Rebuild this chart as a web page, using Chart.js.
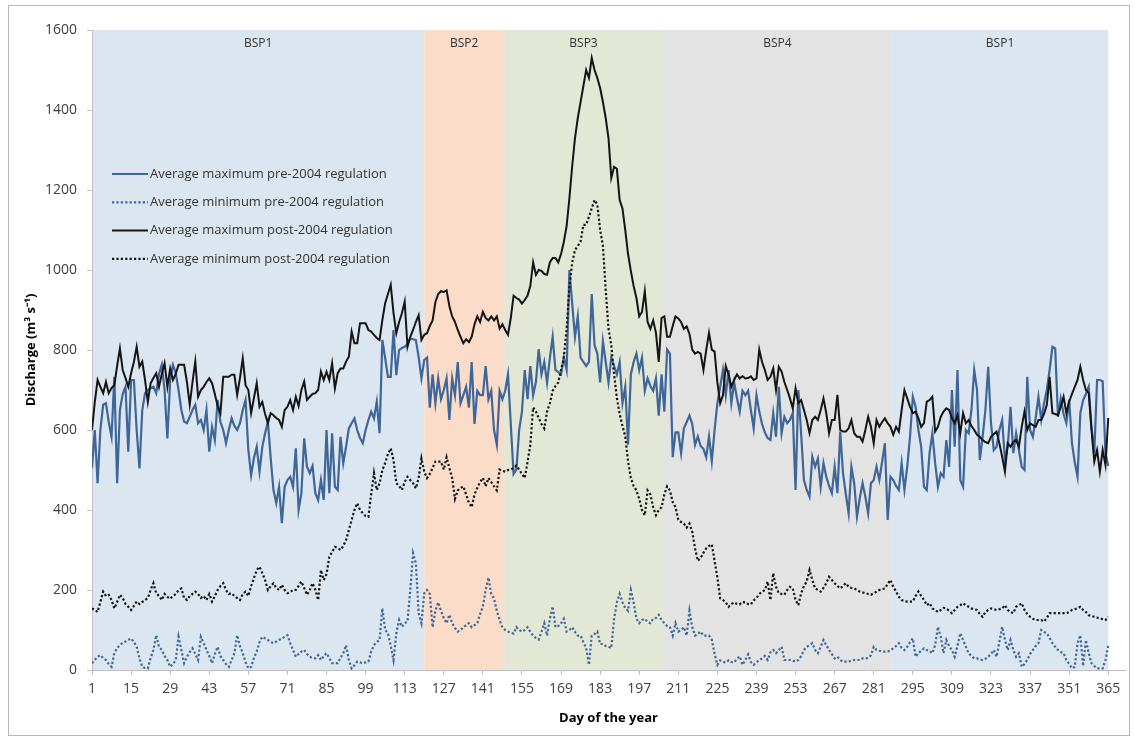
<!DOCTYPE html>
<html>
<head>
<meta charset="utf-8">
<script src="https://cdn.jsdelivr.net/npm/chart.js@4.4.1/dist/chart.umd.min.js"></script>
<style>
  html, body { margin: 0; padding: 0; background: #fff; }
</style>
</head>
<body>
<canvas id="chart" width="1135" height="740"></canvas>
<script>
// day of year (categories)
const days = Array.from({ length: 365 }, (_, i) => i + 1);
const xTicks = [1, 15, 29, 43, 57, 71, 85, 99, 113, 127, 141, 155, 169, 183, 197, 211, 225, 239, 253, 267, 281, 295, 309, 323, 337, 351, 365];

// regulation periods (start / end day)
const bandNames = ['BSP1', 'BSP2', 'BSP3', 'BSP4', 'BSP1'];
const bandStart = [1, 120, 148.6, 205.5, 287.5];
const bandEnd = [120, 148.6, 205.5, 287.5, 365];
const bandColors = ['#dce6f1', '#fbdcc8', '#e3e8d6', '#e3e3e3', '#dce6f1'];

// Average maximum pre-2004 regulation
const preMax = [
  505, 600, 467, 600, 663, 667, 620, 583, 733, 467,
  650, 690, 708, 546, 725, 725, 600, 504, 650, 692,
  700, 705, 708, 692, 740, 763, 700, 579, 725, 763,
  742, 700, 650, 621, 617, 633, 650, 663, 617, 625,
  600, 650, 546, 608, 575, 675, 620, 600, 567, 600,
  629, 610, 600, 617, 650, 675, 550, 487, 530, 558,
  496, 558, 592, 621, 530, 450, 417, 458, 367, 458,
  475, 483, 458, 554, 400, 442, 579, 508, 492, 510,
  442, 425, 475, 425, 600, 442, 592, 458, 450, 583,
  517, 558, 604, 617, 629, 600, 580, 567, 600, 625,
  646, 629, 671, 592, 825, 780, 733, 733, 850, 737,
  800, 805, 808, 815, 829, 827, 825, 783, 729, 775,
  781, 656, 739, 667, 729, 677, 700, 729, 625, 729,
  687, 770, 667, 687, 708, 656, 770, 615, 698, 687,
  687, 760, 677, 698, 600, 563, 698, 677, 698, 739,
  615, 490, 501, 600, 646, 750, 677, 760, 687, 720,
  802, 739, 770, 718, 780, 833, 750, 745, 739, 781,
  750, 1000, 916, 833, 884, 781, 770, 760, 770, 940,
  812, 791, 719, 822, 770, 719, 781, 760, 739, 770,
  667, 708, 563, 739, 770, 791, 750, 781, 698, 729,
  710, 698, 729, 636, 739, 646, 801, 791, 532, 594,
  594, 542, 604, 620, 636, 615, 563, 584, 560, 553,
  532, 584, 522, 600, 667, 708, 750, 687, 750, 667,
  719, 680, 646, 698, 687, 698, 650, 604, 687, 646,
  615, 594, 580, 575, 642, 583, 708, 592, 633, 617,
  625, 642, 450, 700, 590, 475, 450, 433, 533, 508,
  529, 458, 517, 483, 460, 442, 508, 442, 596, 492,
  440, 392, 508, 467, 383, 430, 467, 433, 392, 467,
  475, 508, 475, 520, 567, 375, 483, 475, 460, 450,
  517, 450, 508, 583, 683, 658, 600, 558, 458, 450,
  542, 592, 517, 458, 492, 483, 575, 508, 700, 558,
  750, 475, 458, 600, 592, 650, 750, 700, 525, 583,
  650, 758, 617, 550, 558, 600, 625, 525, 558, 658,
  542, 592, 550, 508, 500, 733, 600, 583, 630, 683,
  625, 667, 700, 750, 808, 804, 633, 679, 640, 617,
  675, 567, 520, 483, 642, 675, 690, 708, 608, 542,
  725, 725, 722, 542, 510
];

// Average minimum pre-2004 regulation
const preMin = [
  17, 25, 33, 37, 30, 25, 15, 8, 42, 55,
  62, 68, 71, 75, 79, 70, 58, 29, 8, 5,
  4, 30, 50, 87, 58, 50, 35, 25, 8, 15,
  25, 83, 50, 17, 33, 45, 54, 40, 25, 83,
  67, 50, 35, 17, 40, 58, 35, 25, 15, 8,
  25, 42, 87, 60, 42, 20, 4, 8, 30, 46,
  70, 83, 79, 75, 70, 67, 71, 75, 79, 83,
  87, 67, 50, 33, 40, 46, 50, 40, 33, 30,
  29, 37, 25, 35, 42, 30, 17, 17, 17, 30,
  42, 62, 25, 4, 12, 21, 19, 17, 19, 21,
  46, 62, 70, 75, 154, 100, 92, 60, 25, 92,
  125, 108, 117, 121, 200, 292, 267, 142, 117, 192,
  200, 190, 107, 148, 169, 148, 130, 117, 138, 117,
  105, 96, 100, 107, 112, 117, 107, 112, 117, 140,
  159, 200, 231, 190, 179, 148, 125, 107, 100, 96,
  93, 91, 107, 100, 96, 100, 107, 95, 86, 80,
  76, 96, 117, 86, 128, 159, 107, 110, 117, 128,
  96, 100, 107, 95, 86, 86, 70, 55, 13, 86,
  90, 96, 65, 65, 60, 58, 55, 128, 169, 190,
  169, 155, 148, 200, 169, 128, 117, 125, 128, 120,
  117, 128, 130, 138, 125, 117, 110, 107, 86, 117,
  96, 100, 107, 86, 148, 107, 86, 90, 96, 86,
  86, 86, 76, 40, 13, 24, 20, 19, 24, 20,
  19, 28, 34, 13, 25, 39, 20, 13, 20, 24,
  29, 35, 25, 44, 50, 42, 50, 58, 25, 25,
  25, 23, 21, 25, 35, 50, 58, 62, 67, 50,
  42, 58, 75, 62, 50, 40, 29, 33, 25, 21,
  21, 21, 23, 25, 25, 25, 29, 29, 30, 37,
  58, 50, 48, 46, 46, 46, 50, 54, 60, 67,
  55, 50, 58, 70, 79, 33, 42, 48, 54, 50,
  48, 42, 62, 108, 83, 42, 75, 60, 50, 33,
  60, 92, 75, 58, 42, 35, 29, 29, 27, 25,
  28, 33, 40, 50, 33, 70, 108, 75, 50, 75,
  50, 33, 42, 8, 15, 25, 40, 50, 60, 67,
  100, 95, 92, 80, 67, 58, 50, 45, 42, 25,
  15, 4, 8, 67, 87, 10, 75, 42, 17, 10,
  4, 4, 4, 25, 62
];

// Average maximum post-2004 regulation
const postMax = [
  600, 670, 725, 708, 692, 720, 692, 705, 712, 760,
  804, 750, 730, 708, 742, 770, 808, 758, 771, 725,
  670, 717, 730, 742, 708, 740, 767, 708, 754, 725,
  740, 763, 763, 763, 720, 663, 720, 771, 683, 700,
  708, 720, 729, 717, 690, 660, 642, 733, 733, 733,
  738, 738, 688, 730, 779, 712, 700, 642, 680, 717,
  658, 670, 640, 617, 642, 637, 630, 625, 608, 650,
  658, 675, 650, 683, 660, 700, 721, 675, 683, 690,
  692, 700, 746, 725, 746, 725, 767, 704, 742, 754,
  754, 771, 783, 846, 817, 817, 867, 867, 867, 850,
  846, 838, 830, 825, 875, 917, 940, 963, 892, 842,
  870, 892, 921, 808, 833, 850, 870, 887, 825, 838,
  842, 860, 874, 920, 940, 947, 945, 949, 910, 884,
  870, 850, 833, 817, 827, 820, 833, 864, 884, 870,
  895, 880, 874, 884, 874, 884, 853, 864, 850, 838,
  880, 936, 930, 926, 916, 925, 936, 960, 1019, 988,
  1000, 998, 990, 988, 1019, 1030, 1030, 1019, 1040, 1070,
  1110, 1180, 1260, 1330, 1380, 1420, 1460, 1500, 1480, 1530,
  1500, 1480, 1455, 1420, 1380, 1330, 1230, 1258, 1253, 1175,
  1154, 1100, 1040, 998, 960, 930, 884, 895, 947, 870,
  853, 874, 843, 770, 880, 884, 833, 833, 860, 884,
  879, 870, 853, 859, 840, 801, 791, 795, 791, 750,
  800, 843, 801, 796, 719, 667, 687, 760, 739, 708,
  725, 739, 729, 735, 729, 730, 734, 725, 729, 801,
  770, 750, 725, 733, 754, 700, 758, 746, 720, 700,
  679, 654, 704, 667, 675, 650, 625, 592, 625, 633,
  625, 650, 679, 642, 592, 625, 625, 688, 600, 596,
  596, 604, 625, 592, 583, 583, 571, 600, 633, 608,
  567, 625, 608, 620, 629, 617, 608, 588, 608, 596,
  650, 700, 679, 658, 642, 646, 630, 608, 617, 671,
  675, 683, 596, 608, 633, 646, 654, 650, 630, 617,
  637, 592, 642, 617, 625, 610, 600, 588, 583, 575,
  570, 567, 583, 590, 596, 567, 533, 496, 567, 558,
  570, 575, 558, 608, 646, 600, 617, 612, 608, 625,
  625, 640, 663, 733, 642, 640, 637, 658, 683, 642,
  671, 690, 708, 725, 758, 725, 700, 692, 600, 521,
  550, 496, 550, 513, 630
];

// Average minimum post-2004 regulation
const postMin = [
  154, 150, 145, 170, 196, 185, 188, 175, 154, 170,
  188, 180, 165, 158, 150, 160, 171, 165, 170, 175,
  180, 200, 217, 192, 185, 175, 190, 183, 178, 185,
  190, 200, 204, 180, 175, 185, 190, 196, 190, 180,
  185, 175, 190, 171, 185, 200, 210, 217, 200, 190,
  192, 185, 180, 175, 190, 196, 185, 210, 230, 250,
  258, 242, 225, 200, 210, 217, 205, 200, 213, 200,
  192, 195, 200, 200, 210, 221, 205, 188, 200, 217,
  200, 175, 250, 225, 240, 283, 295, 308, 305, 300,
  310, 325, 350, 375, 400, 417, 400, 392, 385, 383,
  440, 492, 450, 467, 500, 517, 540, 554, 525, 467,
  460, 450, 470, 483, 475, 467, 454, 480, 529, 496,
  480, 490, 505, 521, 521, 521, 501, 532, 505, 480,
  428, 449, 455, 459, 439, 418, 407, 439, 455, 470,
  480, 459, 480, 470, 459, 449, 501, 498, 496, 500,
  501, 505, 511, 501, 490, 480, 520, 563, 656, 646,
  630, 615, 604, 646, 667, 698, 710, 719, 750, 781,
  853, 957, 1019, 1050, 1060, 1071, 1113, 1113, 1133, 1154,
  1175, 1164, 1100, 1061, 950, 853, 812, 739, 680, 640,
  610, 584, 522, 480, 460, 449, 428, 400, 387, 449,
  439, 407, 387, 400, 407, 439, 459, 449, 420, 407,
  376, 370, 366, 356, 366, 345, 304, 273, 280, 293,
  304, 310, 314, 273, 231, 179, 175, 169, 158, 165,
  169, 165, 164, 170, 169, 165, 164, 174, 180, 190,
  195, 200, 221, 175, 242, 208, 192, 190, 188, 200,
  208, 204, 175, 162, 192, 210, 221, 250, 225, 204,
  200, 196, 205, 217, 233, 225, 217, 210, 204, 210,
  217, 208, 205, 204, 200, 196, 194, 192, 190, 188,
  192, 196, 200, 202, 204, 215, 225, 208, 196, 183,
  175, 172, 171, 171, 171, 185, 196, 185, 175, 162,
  167, 154, 150, 145, 150, 155, 154, 148, 142, 150,
  158, 162, 167, 162, 158, 154, 152, 150, 140, 133,
  145, 150, 154, 152, 150, 152, 154, 162, 150, 145,
  142, 158, 162, 167, 150, 140, 133, 128, 125, 125,
  125, 121, 130, 142, 142, 142, 142, 142, 142, 142,
  145, 150, 152, 154, 158, 150, 145, 137, 135, 133,
  131, 129, 127, 125, 133
];

const blue = '#3f6698';
const dark = '#151515';
const textColor = '#404040';

Chart.defaults.font.family = '"Open Sans", sans-serif';
Chart.defaults.color = textColor;

// white page with thin frame, then the period bands behind the lines
const bandsPlugin = {
  id: 'bands',
  beforeDraw(chart) {
    const { ctx, chartArea, scales } = chart;
    ctx.save();
    ctx.fillStyle = '#fff';
    ctx.fillRect(0, 0, chart.width, chart.height);
    ctx.strokeStyle = '#b8b8b8';
    ctx.lineWidth = 1;
    ctx.strokeRect(8.5, 5.5, 1121, 730);

    ctx.font = '12px "Open Sans", sans-serif';
    ctx.textAlign = 'center';
    ctx.textBaseline = 'middle';
    bandNames.forEach((name, i) => {
      const x1 = scales.x.getPixelForValue(bandStart[i]);
      const x2 = scales.x.getPixelForValue(bandEnd[i]);
      ctx.fillStyle = bandColors[i];
      ctx.fillRect(x1, chartArea.top, x2 - x1, chartArea.bottom - chartArea.top);
      ctx.fillStyle = '#333';
      ctx.fillText(name, (x1 + x2) / 2, chartArea.top + 14);
    });
    ctx.restore();
  }
};

// legend inside the plot, upper left
const legendPlugin = {
  id: 'insideLegend',
  afterDatasetsDraw(chart) {
    const ctx = chart.ctx;
    const left = chart.chartArea.left + 20;
    ctx.save();
    ctx.font = '13px "Open Sans", sans-serif';
    ctx.textBaseline = 'middle';
    chart.data.datasets.forEach((ds, i) => {
      const y = 174 + i * 28.3;
      ctx.strokeStyle = ds.borderColor;
      ctx.lineWidth = ds.borderWidth;
      ctx.setLineDash(ds.borderDash || []);
      ctx.beginPath();
      ctx.moveTo(left, y);
      ctx.lineTo(left + 36, y);
      ctx.stroke();
      ctx.setLineDash([]);
      ctx.fillStyle = '#333';
      ctx.fillText(ds.label, left + 38, y);
    });
    ctx.restore();
  }
};

new Chart(document.getElementById('chart'), {
  type: 'line',
  data: {
    labels: days,
    datasets: [
      { label: 'Average maximum pre-2004 regulation', data: preMax, borderColor: blue, borderWidth: 2.2, order: 4 },
      { label: 'Average minimum pre-2004 regulation', data: preMin, borderColor: blue, borderWidth: 2.2, borderDash: [2.2, 2.2], order: 3 },
      { label: 'Average maximum post-2004 regulation', data: postMax, borderColor: dark, borderWidth: 2, order: 2 },
      { label: 'Average minimum post-2004 regulation', data: postMin, borderColor: dark, borderWidth: 2.2, borderDash: [2.2, 2.2], order: 1 }
    ]
  },
  options: {
    responsive: false,
    animation: false,
    layout: { padding: { left: 10, right: 10, top: 30, bottom: 10 } },
    elements: { point: { radius: 0 }, line: { tension: 0 } },
    plugins: { legend: { display: false }, tooltip: { enabled: false } },
    scales: {
      x: {
        type: 'linear',
        min: 1,
        max: 371,
        afterBuildTicks: axis => { axis.ticks = xTicks.map(v => ({ value: v })); },
        afterFit: axis => { axis.height = 60; },
        grid: { drawOnChartArea: false, color: '#bfbfbf', tickLength: 5 },
        border: { color: '#bfbfbf' },
        ticks: { autoSkip: false, maxRotation: 0, padding: 6, font: { size: 14 }, color: textColor, callback: v => String(v) },
        title: { display: true, text: 'Day of the year', font: { size: 13, weight: 'bold' }, color: '#000', padding: { top: 10 } }
      },
      y: {
        min: 0,
        max: 1600,
        ticks: { stepSize: 200, padding: 10, font: { size: 14 }, color: textColor, callback: v => String(v) },
        afterFit: axis => { axis.width = 82; },
        grid: { drawOnChartArea: false, color: '#bfbfbf', tickLength: 5 },
        border: { color: '#bfbfbf' },
        title: { display: true, text: 'Discharge (m³ s⁻¹)', font: { size: 13, weight: 'bold' }, color: '#000', padding: { top: 13 } }
      }
    }
  },
  plugins: [bandsPlugin, legendPlugin]
});
</script>
</body>
</html>
